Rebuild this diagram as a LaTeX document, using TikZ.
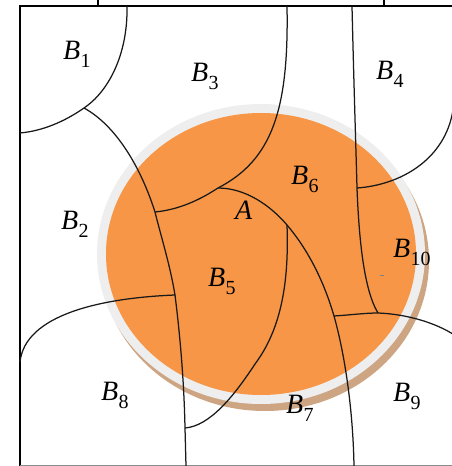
\documentclass[tikz,border=0pt]{standalone}
\usepackage{fontspec}
\setmainfont{Liberation Serif}
\definecolor{discorange}{RGB}{246,150,70}
\definecolor{ringgray}{RGB}{238,238,238}
\definecolor{shadowtan}{RGB}{205,165,130}
\newcommand{\Blab}[1]{{\itshape B}\kern0.3pt\raisebox{-8.5pt}{\fontsize{20}{20}\selectfont #1}}
\tikzset{
  bound/.style={line width=1.3pt, draw=black},
  curve/.style={line width=1.25pt, draw=black!90},
  lab/.style={anchor=base west, inner sep=0pt, font=\fontsize{28}{28}\selectfont}
}
\begin{document}
\begin{tikzpicture}[x=1pt,y=-1pt]
\useasboundingbox (0,0) rectangle (452,466);
% disc with ring and shadow
\fill[shadowtan] (265,261) ellipse [x radius=164, y radius=150];
\fill[ringgray] (261,254) ellipse [x radius=164, y radius=150];
\fill[discorange] (261,254) ellipse [x radius=155, y radius=141];
% frame
\coordinate (tl) at (20,6);
\coordinate (tr) at (452,6);
\coordinate (bl) at (20,466);
\draw[bound] (tr) -- (tl) -- (bl);
\draw[line width=0.9pt, draw=black!45] (20,465.6) -- (452,465.6);
\coordinate (t1a) at (98,0); \coordinate (t1b) at (98,6);
\coordinate (t2a) at (384,0); \coordinate (t2b) at (384,6);
\draw[bound] (t1a) -- (t1b);
\draw[bound] (t2a) -- (t2b);
% junctions
\coordinate (J1) at (84,108);
\coordinate (J2) at (155,212);
\coordinate (J3) at (175,295);
\coordinate (J4) at (185,428);
\coordinate (J5) at (218,188);
\coordinate (J6) at (287,225);
\coordinate (J7) at (334,316);
\coordinate (J8) at (357,188);
\coordinate (J9) at (378,313);
\coordinate (M1) at (255,364);
% free ends
\coordinate (e1) at (127,6);
\coordinate (e2) at (20,133);
\coordinate (e3) at (186,466);
\coordinate (e4) at (287,6);
\coordinate (e5) at (354,466);
\coordinate (e6) at (20,362);
\coordinate (e7) at (352,6);
\coordinate (e8) at (453,110);
\coordinate (e9) at (456,336);
% curves
\draw[curve] (e1) .. controls (128,55) and (108,92) .. (J1) .. controls (64,122) and (42,131) .. (e2);
\draw[curve] (J1) .. controls (115,125) and (140,165) .. (J2) .. controls (162,240) and (170,265) .. (J3) .. controls (180,335) and (184,380) .. (J4) -- (e3);
\draw[curve] (e4) .. controls (289,110) and (272,160) .. (J5) .. controls (195,203) and (175,210) .. (J2);
\draw[curve] (J5) .. controls (245,188) and (270,205) .. (J6) .. controls (310,252) and (325,285) .. (J7) .. controls (345,355) and (353,410) .. (e5);
\draw[curve] (J6) .. controls (289,280) and (282,328) .. (M1) .. controls (234,396) and (210,426) .. (J4);
\draw[curve] (e6) .. controls (25,315) and (100,298) .. (J3);
\draw[curve] (e7) .. controls (354,90) and (356,150) .. (J8) .. controls (359,240) and (364,290) .. (J9);
\draw[curve] (J8) .. controls (400,185) and (445,160) .. (e8);
\draw[curve] (J7) .. controls (350,315) and (365,313) .. (J9) .. controls (405,314) and (435,322) .. (e9);
\coordinate (d1) at (380,275); \coordinate (d2) at (384,275);
\draw[line width=0.6pt, draw=black!50] (d1) -- (d2);
% labels
\node[lab] (b1) at (63,59) {\Blab{1}};
\node[lab] (b3) at (191,81) {\Blab{3}};
\node[lab] (b4) at (376,79) {\Blab{4}};
\node[lab] (b2) at (61,229) {\Blab{2}};
\node[lab] (b6) at (291,184) {\Blab{6}};
\node[lab] (a) at (235,219) {\itshape A};
\node[lab] (b5) at (208,286) {\Blab{5}};
\node[lab] (b10) at (393,257) {\Blab{10}};
\node[lab] (b8) at (101,400) {\Blab{8}};
\node[lab] (b7) at (286,413) {\Blab{7}};
\node[lab] (b9) at (393,401) {\Blab{9}};
\end{tikzpicture}
\end{document}
